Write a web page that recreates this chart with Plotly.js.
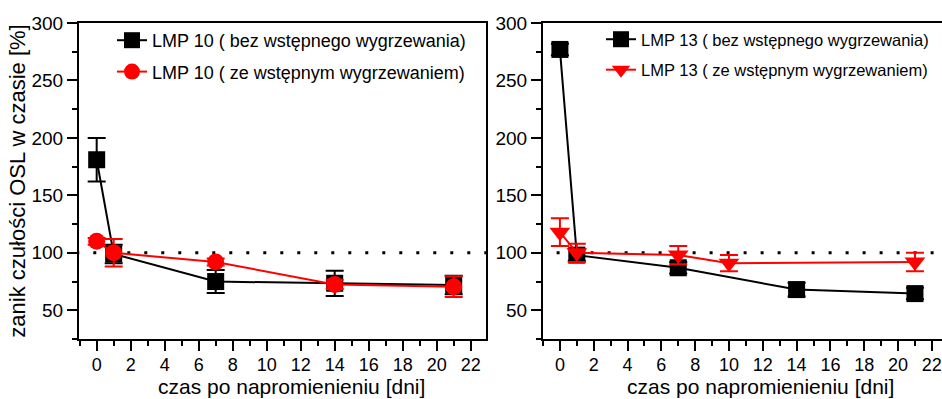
<!DOCTYPE html>
<html>
<head>
<meta charset="utf-8">
<script src="https://cdn.plot.ly/plotly-3.0.1.min.js"></script>
<style>
html,body{margin:0;padding:0;background:#fff;}
#chart{width:942px;height:399px;}
</style>
</head>
<body>
<div id="chart"></div>
<script>
// ---- data ----
const days10 = [0, 1, 7, 14, 21];
const lmp10Bez = [181, 99, 75, 73.5, 72];
const lmp10BezErr = [19, 8, 10, 11, 8];
const lmp10Ze = [110, 100, 92, 72.5, 70.5];
const lmp10ZeErr = [3, 12, 3, 4, 9];

const days13Bez = [0, 1, 7, 14, 21];
const lmp13Bez = [277, 98, 87, 68, 64.5];
const lmp13BezErr = [5, 5, 5, 6, 5];
const days13Ze = [0, 1, 7, 10, 21];
const lmp13Ze = [118, 100, 98, 91, 92];
const lmp13ZeErr = [12, 8, 8, 7, 8];

const refX = [-1.2, 23];
const refY = [100, 100];

const names = {
  a: "LMP 10 ( bez wstępnego wygrzewania)",
  b: "LMP 10 ( ze wstępnym wygrzewaniem)",
  c: "LMP 13 ( bez wstępnego wygrzewania)",
  d: "LMP 13 ( ze wstępnym wygrzewaniem)"
};
const xTitle = "czas po napromienieniu [dni]";
const yTitle = "zanik czułości OSL w czasie [%]";

const FONT = "Liberation Sans, Arial, sans-serif";
const RED = "#ff0000";

function series(x, y, err, name, color, symbol, xa, ya, legend, group, size) {
  return {
    type: "scatter", mode: "lines+markers", x: x, y: y, name: name,
    xaxis: xa, yaxis: ya, legend: legend, legendgroup: group,
    line: {color: color, width: 2},
    marker: {color: color, symbol: symbol, size: size},
    error_y: {type: "data", array: err, visible: true, color: color, thickness: 2, width: 9},
    cliponaxis: false
  };
}

const ref1 = {type: "scatter", mode: "lines", x: refX, y: refY, xaxis: "x", yaxis: "y",
  line: {color: "#000", width: 3, dash: "3px,14px"}, showlegend: false, hoverinfo: "skip"};
const ref2 = Object.assign({}, ref1, {xaxis: "x2", yaxis: "y2"});

const data = [
  ref1, ref2,
  series(days10, lmp10Bez, lmp10BezErr, names.a, "#000", "square", "x", "y", "legend", "g1", 17),
  series(days10, lmp10Ze, lmp10ZeErr, names.b, RED, "circle", "x", "y", "legend", "g2", 17),
  series(days13Bez, lmp13Bez, lmp13BezErr, names.c, "#000", "square", "x2", "y2", "legend2", "g3", 17),
  series(days13Ze, lmp13Ze, lmp13ZeErr, names.d, RED, "triangle-down", "x2", "y2", "legend2", "g4", 18)
];

const xCommon = {
  showgrid: false, zeroline: false, showline: true, linecolor: "#000", linewidth: 2,
  ticks: "outside", ticklen: 10, tickwidth: 2, tickcolor: "#000",
  tick0: 0, dtick: 2, ticklabeloverflow: "allow", ticklabelstandoff: -2,
  minor: {ticks: "outside", ticklen: 5, tickwidth: 2, tickcolor: "#000", dtick: 1, tick0: 0, showgrid: false},
  tickfont: {family: FONT, size: 18, color: "#000"},
  automargin: false, fixedrange: true
};
const yCommon = {
  showgrid: false, zeroline: false, showline: true, linecolor: "#000", linewidth: 2,
  ticks: "outside", ticklen: 10, tickwidth: 2, tickcolor: "#000",
  range: [25, 300], tick0: 0, dtick: 50,
  minor: {ticks: "outside", ticklen: 5, tickwidth: 2, tickcolor: "#000", dtick: 25, tick0: 0, showgrid: false},
  tickfont: {family: FONT, size: 19, color: "#000"},
  automargin: false, fixedrange: true, domain: [1 - 339/399, 1 - 23/399]
};

const titleFont = {family: FONT, size: 22, color: "#000"};
const xTitleFont = {family: FONT, size: 21, color: "#000"};

const layout = {
  width: 942, height: 399,
  margin: {l: 0, r: 0, t: 0, b: 0},
  paper_bgcolor: "#fff", plot_bgcolor: "#fff",
  font: {family: FONT, color: "#000"},
  xaxis: Object.assign({}, xCommon, {domain: [79/942, 486/942], range: [-1.04, 22.9], anchor: "y", mirror: true}),
  yaxis: Object.assign({}, yCommon, {anchor: "x", mirror: true,
    title: {text: yTitle, font: titleFont, standoff: 0}}),
  xaxis2: Object.assign({}, xCommon, {domain: [543/942, 1], range: [-1.0, 22.6], anchor: "y2", mirror: true}),
  yaxis2: Object.assign({}, yCommon, {anchor: "x2", mirror: false}),
  legend: {x: 112/942, y: 1 - 22/399, xanchor: "left", yanchor: "top", bgcolor: "rgba(0,0,0,0)",
    font: {family: FONT, size: 18, color: "#000"}, tracegroupgap: 5, traceorder: "grouped"},
  legend2: {x: 601/942, y: 1 - 22/399, xanchor: "left", yanchor: "top", bgcolor: "rgba(0,0,0,0)",
    font: {family: FONT, size: 16.5, color: "#000"}, tracegroupgap: 6, traceorder: "grouped"},
  annotations: [
    {text: xTitle, xref: "paper", yref: "paper", x: 291/942, y: 0, xanchor: "center", yanchor: "bottom",
      showarrow: false, font: xTitleFont, borderpad: 0},
    {text: xTitle, xref: "paper", yref: "paper", x: 760/942, y: 0, xanchor: "center", yanchor: "bottom",
      showarrow: false, font: xTitleFont, borderpad: 0}
  ],
  showlegend: true
};

Plotly.newPlot("chart", data, layout, {displayModeBar: false, staticPlot: true});
</script>
</body>
</html>
